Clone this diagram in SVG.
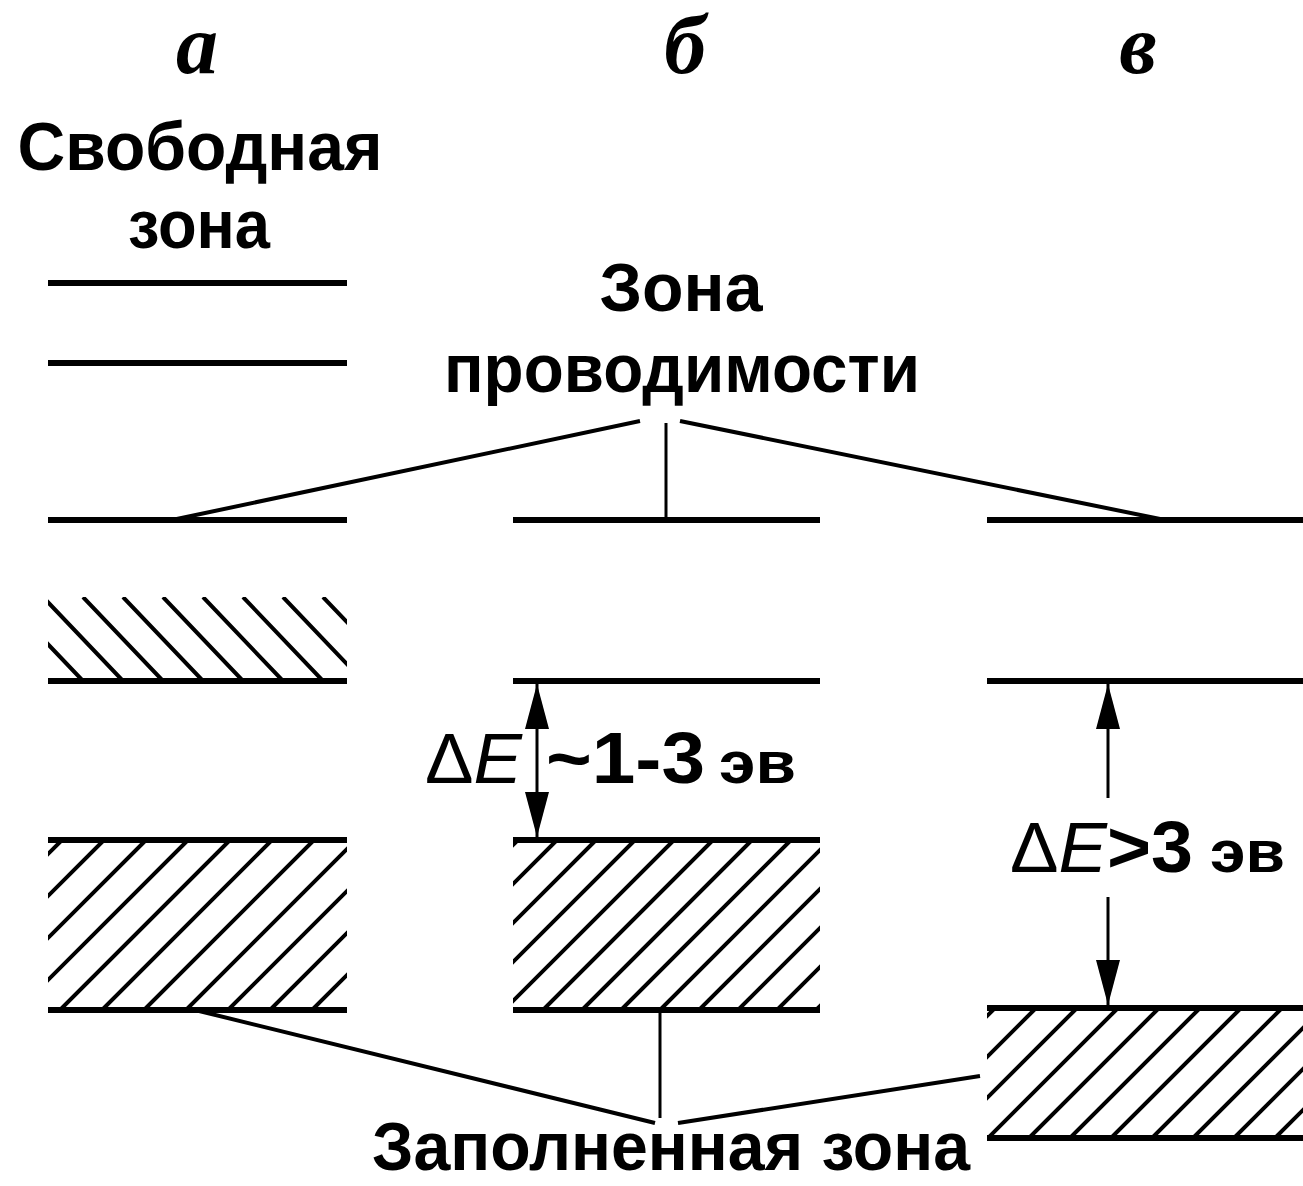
<svg xmlns="http://www.w3.org/2000/svg" width="1303" height="1186" viewBox="0 0 1303 1186">
<style>
.lvl{stroke:#000;stroke-width:6;fill:none}
.hatch{stroke:#000;stroke-width:4;fill:none}
.con{stroke:#000;stroke-width:4;fill:none}
.thin{stroke:#000;stroke-width:3;fill:none}
.lab{font-family:"Liberation Sans",Arial,sans-serif;font-weight:bold;font-size:68px;fill:#000}
.let{font-family:"Liberation Serif","Times New Roman",serif;font-weight:bold;font-style:italic;font-size:84px;fill:#000}
.de{font-family:"Liberation Sans",Arial,sans-serif;font-size:70px;fill:#000}
.num{font-family:"Liberation Sans",Arial,sans-serif;font-weight:bold;font-size:72px;fill:#000}
.ev{font-family:"Liberation Sans",Arial,sans-serif;font-weight:bold;font-size:60px;fill:#000}
</style>
<defs>
<clipPath id="cA1"><rect x="48" y="597" width="299" height="84"/></clipPath>
<clipPath id="cA2"><rect x="48" y="840" width="299" height="170"/></clipPath>
<clipPath id="cB2"><rect x="513" y="840" width="307" height="170"/></clipPath>
<clipPath id="cV2"><rect x="987" y="1008" width="316" height="130"/></clipPath>
<marker id="ah" viewBox="0 0 45 24" refX="45" refY="12" markerWidth="45" markerHeight="24" markerUnits="userSpaceOnUse" orient="auto">
<path d="M0,0 L45,12 L0,24 Z" fill="#000"/>
</marker>
</defs>
<rect width="1303" height="1186" fill="#fff"/>

<g id="titles">
<text class="let" x="197" y="73" text-anchor="middle">а</text>
<text class="let" x="685" y="73" text-anchor="middle">б</text>
<text class="let" x="1138" y="73" text-anchor="middle">в</text>
</g>

<g id="label-free">
<text class="lab" x="200" y="170" text-anchor="middle" textLength="365" lengthAdjust="spacingAndGlyphs">Свободная</text>
<text class="lab" x="199" y="248" text-anchor="middle" textLength="142" lengthAdjust="spacingAndGlyphs">зона</text>
</g>

<g id="label-conduction">
<text class="lab" x="681" y="311" text-anchor="middle">Зона</text>
<text class="lab" x="682" y="392" text-anchor="middle" textLength="476" lengthAdjust="spacingAndGlyphs">проводимости</text>
</g>

<g id="label-filled">
<text class="lab" x="671" y="1170" text-anchor="middle" font-size="64" textLength="598" lengthAdjust="spacingAndGlyphs">Заполненная зона</text>
</g>

<g id="column-a">
<path class="lvl" d="M48,283 H347 M48,363 H347 M48,520 H347 M48,681 H347 M48,840 H347 M48,1010 H347"/>
<path class="hatch" clip-path="url(#cA1)" d="M3,597 L83,681 M43,597 L123,681 M83,597 L163,681 M123,597 L203,681 M163,597 L243,681 M203,597 L283,681 M243,597 L323,681 M283,597 L363,681 M323,597 L403,681"/>
<path class="hatch" clip-path="url(#cA2)" d="M-108,1010 L62,840 M-66,1010 L104,840 M-24,1010 L146,840 M18,1010 L188,840 M60,1010 L230,840 M102,1010 L272,840 M144,1010 L314,840 M186,1010 L356,840 M228,1010 L398,840 M270,1010 L440,840 M312,1010 L482,840"/>
</g>

<g id="column-b">
<path class="lvl" d="M513,520 H820 M513,681 H820 M513,840 H820 M513,1010 H820"/>
<path class="hatch" clip-path="url(#cB2)" d="M348,1010 L518,840 M387,1010 L557,840 M426,1010 L596,840 M465,1010 L635,840 M504,1010 L674,840 M543,1010 L713,840 M582,1010 L752,840 M621,1010 L791,840 M660,1010 L830,840 M699,1010 L869,840 M738,1010 L908,840 M777,1010 L947,840 M816,1010 L986,840"/>
<line class="thin" x1="537" y1="760" x2="537" y2="684" marker-end="url(#ah)"/>
<line class="thin" x1="537" y1="760" x2="537" y2="837" marker-end="url(#ah)"/>
<text class="de" x="425" y="783" textLength="97" lengthAdjust="spacingAndGlyphs">Δ<tspan font-style="italic">E</tspan></text>
<text class="num" x="546" y="783" textLength="159" lengthAdjust="spacingAndGlyphs">~1-3</text>
<text class="ev" x="719" y="783" textLength="77" lengthAdjust="spacingAndGlyphs">эв</text>
</g>

<g id="column-c">
<path class="lvl" d="M987,520 H1303 M987,681 H1303 M987,1008 H1303 M987,1138 H1303"/>
<path class="hatch" clip-path="url(#cV2)" d="M865,1138 L995,1008 M906,1138 L1036,1008 M947,1138 L1077,1008 M988,1138 L1118,1008 M1029,1138 L1159,1008 M1070,1138 L1200,1008 M1111,1138 L1241,1008 M1152,1138 L1282,1008 M1193,1138 L1323,1008 M1234,1138 L1364,1008 M1275,1138 L1405,1008"/>
<line class="thin" x1="1108" y1="798" x2="1108" y2="684" marker-end="url(#ah)"/>
<line class="thin" x1="1108" y1="897" x2="1108" y2="1005" marker-end="url(#ah)"/>
<text class="de" x="1010" y="872" textLength="97" lengthAdjust="spacingAndGlyphs">Δ<tspan font-style="italic">E</tspan></text>
<text class="num" x="1107" y="872" textLength="86" lengthAdjust="spacingAndGlyphs">&gt;3</text>
<text class="ev" x="1210" y="872" textLength="75" lengthAdjust="spacingAndGlyphs">эв</text>
</g>

<g id="connectors">
<path class="con" d="M640,421 L172,520 M680,421 L1165,520"/>
<path class="thin" d="M666,423 V520"/>
<path class="con" d="M195,1010 L655,1123 M678,1123 L980,1076"/>
<path class="thin" d="M660,1012 V1118"/>
</g>
</svg>
